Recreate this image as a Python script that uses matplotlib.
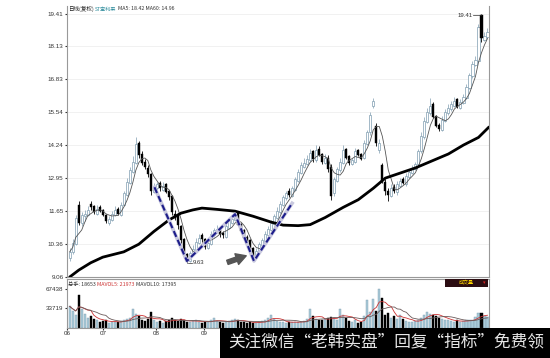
import numpy as np
import pandas as pd
import matplotlib
matplotlib.use("Agg")
import matplotlib.pyplot as plt
from matplotlib.patches import Rectangle

# daily bars (price in yuan)
opens = [
    9.80, 10.05, 10.35, 11.90, 11.20, 11.45, 11.50, 11.95, 11.85, 11.55,
    11.80, 11.70, 11.50, 11.20, 11.30, 11.50, 11.75, 11.50, 11.90, 12.30,
    12.75, 13.20, 13.55, 14.35, 13.90, 13.60, 13.35, 13.10, 12.40, 12.55,
    12.75, 12.50, 12.70, 12.45, 12.25, 11.55, 11.45, 11.05, 10.55, 9.95,
    9.70, 10.00, 10.10, 10.40, 10.70, 10.55, 10.20, 10.35, 10.70, 10.85,
    11.00, 10.80, 10.65, 11.00, 11.20, 11.30, 11.60, 11.15, 10.90, 10.65,
    10.50, 10.20, 9.80, 10.05, 10.30, 10.45, 10.70, 10.90, 11.15, 11.40,
    11.60, 11.90, 12.15, 12.45, 12.25, 12.50, 12.85, 13.15, 13.40, 13.50,
    13.65, 14.00, 13.65, 14.10, 13.90, 13.55, 13.75, 13.40, 12.35, 12.85,
    13.25, 13.55, 14.10, 13.80, 13.50, 13.60, 14.05, 13.90, 13.75, 14.30,
    14.75, 15.80, 15.00, 14.05, 13.45, 12.80, 12.45, 12.25, 12.60, 12.40,
    12.65, 12.90, 12.70, 13.00, 13.15, 13.30, 13.50, 14.00, 14.55, 15.15,
    15.50, 15.85, 15.40, 15.05, 14.85, 15.20, 15.50, 15.65, 15.80, 16.05,
    15.70, 15.90, 16.10, 16.50, 16.95, 17.40, 17.55, 19.35, 18.40, 18.50,
]
closes = [
    10.05, 10.40, 11.40, 11.20, 11.50, 11.55, 11.70, 11.80, 11.60, 11.75,
    11.65, 11.50, 11.25, 11.35, 11.55, 11.70, 11.55, 11.90, 12.35, 12.80,
    13.25, 13.60, 14.30, 13.85, 13.55, 13.40, 13.10, 12.45, 12.60, 12.70,
    12.55, 12.65, 12.40, 12.20, 11.60, 11.40, 11.10, 10.50, 9.95, 9.75,
    10.00, 10.15, 10.45, 10.60, 10.55, 10.25, 10.40, 10.75, 10.90, 10.95,
    10.75, 10.70, 11.05, 11.25, 11.35, 11.55, 11.10, 10.85, 10.60, 10.45,
    10.15, 9.85, 10.10, 10.35, 10.50, 10.75, 10.95, 11.20, 11.45, 11.65,
    11.95, 12.20, 12.35, 12.30, 12.55, 12.90, 13.20, 13.45, 13.55, 13.70,
    13.95, 13.70, 14.05, 13.85, 13.60, 13.75, 13.30, 12.25, 12.90, 13.30,
    13.60, 14.05, 13.75, 13.55, 13.65, 14.00, 13.85, 13.70, 14.35, 14.75,
    15.45, 16.00, 14.35, 14.35, 12.85, 12.45, 12.30, 12.55, 12.45, 12.70,
    12.85, 12.75, 13.05, 13.20, 13.30, 13.50, 14.00, 14.60, 15.20, 15.55,
    15.80, 15.35, 15.00, 14.90, 15.25, 15.55, 15.70, 15.85, 16.00, 15.75,
    15.95, 16.15, 16.55, 17.00, 17.45, 17.60, 18.90, 18.45, 18.55, 18.70,
]
highs = [
    10.20, 10.55, 11.50, 12.05, 11.60, 11.70, 11.85, 12.05, 11.90, 11.90,
    11.90, 11.75, 11.55, 11.45, 11.65, 11.85, 11.80, 12.00, 12.45, 12.95,
    13.40, 13.80, 14.55, 14.40, 14.00, 13.70, 13.45, 13.15, 12.75, 12.80,
    12.85, 12.80, 12.75, 12.50, 12.30, 11.70, 11.55, 11.10, 10.60, 10.00,
    10.10, 10.30, 10.60, 10.75, 10.80, 10.60, 10.50, 10.85, 11.00, 11.10,
    11.05, 10.85, 11.15, 11.35, 11.45, 11.65, 11.65, 11.20, 10.95, 10.70,
    10.55, 10.25, 10.20, 10.45, 10.60, 10.85, 11.05, 11.30, 11.55, 11.80,
    12.05, 12.30, 12.45, 12.55, 12.65, 13.00, 13.30, 13.60, 13.75, 13.85,
    14.10, 14.05, 14.25, 14.20, 13.95, 13.90, 13.85, 13.50, 13.00, 13.40,
    13.75, 14.25, 14.15, 13.85, 13.75, 14.15, 14.10, 13.95, 14.45, 14.85,
    15.55, 16.10, 15.10, 14.50, 13.55, 12.90, 12.55, 12.70, 12.70, 12.85,
    12.95, 13.00, 13.15, 13.30, 13.45, 13.60, 14.10, 14.75, 15.35, 15.70,
    16.10, 15.95, 15.45, 15.10, 15.40, 15.65, 15.85, 16.00, 16.15, 16.10,
    16.05, 16.25, 16.65, 17.10, 17.55, 17.75, 19.00, 19.41, 18.70, 18.85,
]
lows = [
    9.70, 9.95, 10.30, 11.10, 11.05, 11.25, 11.45, 11.70, 11.55, 11.50,
    11.60, 11.45, 11.20, 11.10, 11.25, 11.45, 11.50, 11.45, 11.85, 12.25,
    12.70, 13.15, 13.50, 13.75, 13.45, 13.30, 13.00, 12.30, 12.35, 12.50,
    12.45, 12.45, 12.35, 12.10, 11.50, 11.30, 10.95, 10.40, 9.85, 9.63,
    9.65, 9.95, 10.05, 10.35, 10.45, 10.15, 10.15, 10.30, 10.65, 10.80,
    10.65, 10.60, 10.60, 10.95, 11.15, 11.25, 11.05, 10.80, 10.55, 10.40,
    10.05, 9.75, 9.75, 10.00, 10.25, 10.40, 10.65, 10.85, 11.10, 11.35,
    11.55, 11.85, 12.10, 12.20, 12.20, 12.45, 12.80, 13.10, 13.35, 13.45,
    13.60, 13.60, 13.60, 13.80, 13.50, 13.50, 13.20, 12.10, 12.25, 12.80,
    13.20, 13.50, 13.70, 13.45, 13.45, 13.55, 13.80, 13.65, 13.70, 14.25,
    14.65, 15.70, 14.20, 13.95, 12.75, 12.30, 12.05, 12.20, 12.35, 12.30,
    12.60, 12.70, 12.65, 12.95, 13.10, 13.25, 13.45, 13.95, 14.50, 15.10,
    15.45, 15.30, 14.95, 14.80, 14.80, 15.15, 15.45, 15.60, 15.75, 15.70,
    15.65, 15.85, 16.05, 16.45, 16.90, 17.35, 17.50, 18.30, 18.35, 18.45,
]
volumes = [
    37000, 29000, 22000, 57000, 33000, 24000, 18000, 21000, 15000, 13000,
    11000, 12000, 14000, 9000, 10000, 11000, 9500, 12000, 14000, 16000,
    18000, 32000, 24000, 20000, 14000, 12000, 16000, 27000, 13000, 11000,
    12000, 9000, 12000, 13000, 17000, 14000, 12000, 15000, 13000, 10000,
    11000, 12000, 14000, 11000, 9000, 10000, 11000, 13000, 17000, 12000,
    10000, 9000, 11000, 12000, 13000, 15000, 14000, 11000, 10000, 9000,
    11000, 8000, 9000, 10000, 12000, 13000, 18000, 23000, 16000, 12000,
    10000, 11000, 9000, 10000, 9500, 11000, 10000, 11000, 12000, 15000,
    33000, 20000, 16000, 14000, 13000, 15000, 18000, 19000, 17000, 14000,
    33000, 22000, 18000, 12000, 10000, 14000, 9000, 11000, 20000, 49000,
    28000, 50000, 30000, 67000, 52000, 22000, 25000, 18000, 20000, 16000,
    23000, 15000, 12000, 11000, 10000, 12000, 14000, 18000, 22000, 27000,
    24000, 23000, 21000, 18000, 16000, 14000, 13000, 12000, 11000, 13000,
    11000, 12000, 13000, 13500, 14600, 19000, 26000, 25000, 21200, 18653,
]

# MA60 as drawn (bar index, value)
ma60_idx = [0, 3, 7, 11, 15, 18, 23, 28, 33, 37, 41, 44, 49, 55, 61, 67, 71,
            76, 80, 85, 91, 96, 101, 105, 110, 115, 120, 126, 131, 136, 139.5]
ma60_val = [9.06, 9.33, 9.62, 9.84, 9.96, 10.05, 10.35, 10.85, 11.30, 11.57,
            11.70, 11.77, 11.72, 11.65, 11.45, 11.22, 11.10, 11.08, 11.12,
            11.40, 11.80, 12.10, 12.55, 12.95, 13.15, 13.35, 13.60, 13.90,
            14.25, 14.55, 14.96]

# W-bottom guide line
w_idx = [28.2, 39.0, 55.0, 61.3, 74.0]
w_price = [12.59, 9.69, 11.53, 9.69, 11.96]

price_ticks = [9.06, 10.36, 11.65, 12.95, 14.24, 15.54, 16.83, 18.13, 19.41]
vol_ticks = [33719, 67438]
month_pos = [-0.8, 11.1, 28.7, 44.6]
month_labels = ["06", "07", "08", "09"]

plt.rcParams['font.family'] = ['Noto Sans CJK SC', 'DejaVu Sans']
num_font = ['Liberation Sans Narrow', 'Liberation Sans', 'DejaVu Sans']

W, H = 550, 358


def fx(px):
    return px / W


def fy(py):
    return 1 - py / H


fig = plt.figure(figsize=(5.5, 3.58), dpi=100)
fig.patch.set_facecolor("white")
ax = fig.add_axes([fx(67), fy(277), (489 - 67) / W, (277 - 6) / H])
axv = fig.add_axes([fx(67), fy(328), (489 - 67) / W, (328 - 279) / H])

x = np.arange(len(closes))
o = np.array(opens)
c = np.array(closes)
hi = np.array(highs)
lo = np.array(lows)
up = c >= o
up_edge = "#7f9db0"

# candles
ax.vlines(x[up], lo[up], hi[up], color=up_edge, lw=0.5, zorder=2)
ax.vlines(x[~up], lo[~up], hi[~up], color="black", lw=0.6, zorder=2)
body = np.maximum(np.abs(c - o), 0.03)
ax.bar(x[up], body[up], bottom=np.minimum(o, c)[up], width=0.7,
       facecolor="white", edgecolor=up_edge, lw=0.5, zorder=3)
ax.bar(x[~up], body[~up], bottom=np.minimum(o, c)[~up], width=0.7,
       facecolor="black", edgecolor="black", lw=0.3, zorder=3)

ma5 = pd.Series(closes).rolling(5, min_periods=1).mean()
ax.plot(x, ma5, color="#555555", lw=0.6, zorder=4)
ax.plot(ma60_idx, ma60_val, color="black", lw=2.0, zorder=4,
        solid_capstyle="round", solid_joinstyle="round")

ax.plot(w_idx, w_price, color="#c8c8de", lw=2.6, zorder=5)
ax.plot(w_idx, w_price, color="#1c1c8a", lw=1.5, ls=(0, (3, 1.6)), zorder=6)

# labels for extremes
ax.plot([39.2, 40.6], [9.63, 9.63], color="#333333", lw=0.5, zorder=6)
ax.text(40.8, 9.63, "9.63", fontsize=4.3, va="center", ha="left",
        color="#333333", family=num_font)
ax.plot([134.3, 136.8], [19.36, 19.36], color="#333333", lw=0.5, zorder=6)
ax.text(134.1, 19.36, "19.41", fontsize=4.3, va="center", ha="right",
        color="#333333", family=num_font)

ax.annotate("", xy=(59.6, 9.93), xytext=(51.6, 9.6),
            arrowprops=dict(arrowstyle="simple,head_width=0.9,head_length=0.8,tail_width=0.35",
                            color="#555555", mutation_scale=9), zorder=7)

ax.set_xlim(-0.9, 139.5)
ax.set_ylim(9.06, 19.72)
ax.set_yticks(price_ticks)
ax.set_yticklabels([f"{t:.2f}" for t in price_ticks], family=num_font)
ax.set_xticks([])
ax.tick_params(axis="y", labelsize=4.5, length=1.5, pad=1, colors="#333333")
ax.grid(axis="y", color="#ececec", lw=0.5)
ax.set_axisbelow(True)
for s in ["left", "right", "bottom"]:
    ax.spines[s].set_color("#999999")
    ax.spines[s].set_linewidth(0.8)
ax.spines["top"].set_visible(False)

# volume panel
v = np.array(volumes)
axv.bar(x[up], v[up], width=0.7, facecolor="#a9cbd9", edgecolor=up_edge,
        lw=0.3)
axv.bar(x[~up], v[~up], width=0.7, facecolor="black", edgecolor="black",
        lw=0.3)
mavol5 = pd.Series(volumes).rolling(5, min_periods=1).mean()
mavol10 = pd.Series(volumes).rolling(10, min_periods=1).mean()
axv.plot(x, mavol5, color="#cc3333", lw=0.6)
axv.plot(x, mavol10, color="#6a5a5a", lw=0.6)
axv.set_xlim(-0.9, 139.5)
axv.set_ylim(0, 84300)
axv.set_yticks(vol_ticks)
axv.set_yticklabels([str(t) for t in vol_ticks], family=num_font)
axv.set_xticks(month_pos)
axv.set_xticklabels(month_labels, family=num_font)
axv.tick_params(labelsize=4.5, length=1.5, pad=1, colors="#333333")
for s in ["left", "right", "bottom", "top"]:
    axv.spines[s].set_color("#999999")
    axv.spines[s].set_linewidth(0.8)

# header texts
fig.text(fx(68), fy(9), "日线(复权)", fontsize=4, va="center", color="#222222")
fig.text(fx(95), fy(9), "ST宝利来", fontsize=3.7, va="center", color="#2a8a9a")
fig.text(fx(118), fy(9), "MA5: 18.42 MA60: 14.96", fontsize=3.8,
         va="center", color="#333333")
fig.text(fx(68), fy(284), "总手: 18653", fontsize=3.8, va="center",
         color="#333333")
fig.text(fx(97), fy(284), "MAVOL5: 21973", fontsize=3.8, va="center",
         color="#cc3333")
fig.text(fx(136), fy(284), "MAVOL10: 17395", fontsize=3.8, va="center",
         color="#333333")

fig.patches.append(Rectangle((fx(445), fy(287)), (488 - 445) / W, 8 / H,
                             transform=fig.transFigure, facecolor="#2b0d12",
                             edgecolor="none", zorder=10))
fig.text(fx(466), fy(283), "成交量", fontsize=3.6, va="center", ha="center",
         color="#ffd700", zorder=11)
fig.text(fx(484), fy(283), "▾", fontsize=3.6, va="center", ha="center",
         color="#dd2222", family="DejaVu Sans", zorder=11)

# watermark strip
fig.patches.append(Rectangle((fx(220), 0), (W - 220) / W, 30 / H,
                             transform=fig.transFigure, facecolor="black",
                             edgecolor="none", zorder=20))
fig.text(fx(228), fy(343), "关注微信“老韩实盘”回复“指标”免费领", fontsize=12,
         va="center", ha="left", color="#e6e6e6", zorder=21)

fig.savefig("out.png", dpi=100)
